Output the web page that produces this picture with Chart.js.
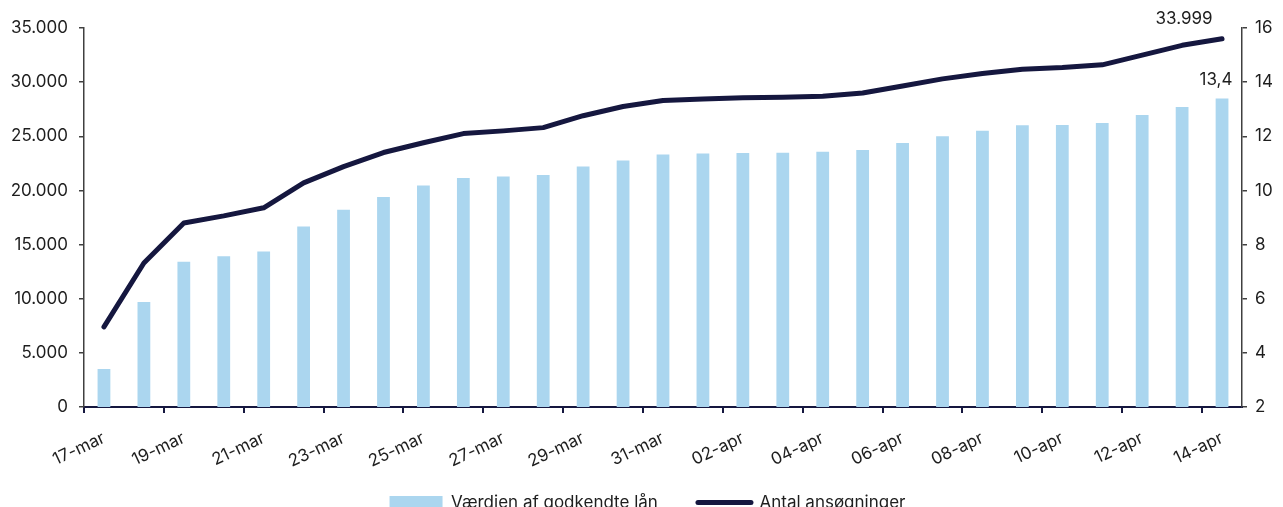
<!DOCTYPE html>
<html><head><meta charset="utf-8">
<script src="https://cdn.jsdelivr.net/npm/chart.js@4.4.1/dist/chart.umd.min.js"></script>
<style>html,body{margin:0;padding:0;overflow:hidden;background:#fff;width:1283px;height:507px}canvas{display:block}</style>
</head><body><canvas id="c" width="1283" height="521"></canvas>
<script>
const categories = ['17-mar','18-mar','19-mar','20-mar','21-mar','22-mar','23-mar','24-mar','25-mar','26-mar','27-mar','28-mar','29-mar','30-mar','31-mar',
  '01-apr','02-apr','03-apr','04-apr','05-apr','06-apr','07-apr','08-apr','09-apr','10-apr','11-apr','12-apr','13-apr','14-apr'];
// Værdien af godkendte lån (mia. kr., right axis)
const loanValues = [3.40,5.88,7.37,7.57,7.74,8.67,9.29,9.76,10.18,10.46,10.51,10.57,10.88,11.11,11.33,11.36,11.38,11.39,11.43,
  11.49,11.75,12.00,12.20,12.41,12.42,12.49,12.79,13.08,13.40];
// Antal ansøgninger (left axis)
const applications = [7400,13300,17000,17650,18400,20700,22200,23500,24400,25250,25500,25800,26900,27750,28300,
  28450,28550,28600,28700,29000,29650,30300,30800,31200,31350,31600,32500,33400,33999];
const leftTicks = [0,5000,10000,15000,20000,25000,30000,35000];
const rightTicks = [2,4,6,8,10,12,14,16];
const seriesNames = ['Værdien af godkendte lån','Antal ansøgninger'];

const FONT = 'Inter';
const FS = 17;
const TXT = '#1e1e1e';
const NAVY = '#15173f';
const BAR = '#abd6ef';

function fmtThousands(v){ return String(Math.round(v)).replace(/\B(?=(\d{3})+(?!\d))/g,'.'); }
function fmtDecimal(v){ return v.toFixed(1).replace('.',','); }

const endLabels = {
  id:'endLabels',
  afterDatasetsDraw(chart){
    const ctx = chart.ctx;
    const bm = chart.getDatasetMeta(0), lm = chart.getDatasetMeta(1);
    const bp = bm.data[bm.data.length-1], lp = lm.data[lm.data.length-1];
    ctx.save();
    ctx.font = FS + 'px ' + FONT; ctx.fillStyle = TXT;
    ctx.textAlign = 'center'; ctx.textBaseline = 'middle';
    ctx.fillText(fmtThousands(applications[applications.length-1]), lp.x - 38, lp.y - 20);
    ctx.fillText(fmtDecimal(loanValues[loanValues.length-1]), bp.x - 6, bp.y - 18);
    ctx.restore();
  }
};

const legendShift = {
  id:'legendShift',
  afterLayout(chart){
    if (chart.legend){ chart.legend.left += 6; chart.legend.right += 6; }
  }
};

new Chart(document.getElementById('c'), {
  data: {
    labels: categories,
    datasets: [
      { type:'bar', label: seriesNames[0], data: loanValues, yAxisID:'y1', backgroundColor: BAR,
        borderWidth:0, barPercentage:0.32, categoryPercentage:1, order:1 },
      { type:'line', label: seriesNames[1], data: applications, yAxisID:'y', borderColor: NAVY, backgroundColor: NAVY,
        borderWidth:5, pointRadius:0, borderCapStyle:'round', borderJoinStyle:'round', tension:0, order:0 }
    ]
  },
  options: {
    responsive:false, animation:false,
    layout:{ padding:{ top:28, left:0, right:0, bottom:0 } },
    plugins:{
      tooltip:{enabled:false},
      legend:{ position:'bottom', align:'center',
        labels:{ usePointStyle:true, pointStyleWidth:53, boxHeight:13, padding:20, color:TXT,
          font:{family:FONT, size:FS},
          sort:(a,b)=>a.datasetIndex-b.datasetIndex,
          generateLabels(chart){
            return chart.data.datasets.map((d,i)=>({
              text: d.label + (i===0 ? '\u2002\u2002\u2009' : ''), datasetIndex:i,
              fillStyle: i===0?BAR:NAVY, strokeStyle: i===0?BAR:NAVY,
              lineWidth: i===0?0:5, lineCap:'round',
              pointStyle: i===0?'rect':'line', hidden:false, fontColor:TXT
            }));
          }
        }
      }
    },
    scales:{
      x:{ type:'category', offset:true,
        grid:{ offset:true, drawOnChartArea:false, drawTicks:true, tickLength:6, lineWidth:2,
          color:(c)=> (c.index % 2 === 0 ? NAVY : 'rgba(0,0,0,0)') },
        border:{ display:true, color:NAVY, width:2 },
        ticks:{ autoSkip:false, minRotation:25, maxRotation:25, padding:15, color:TXT, font:{family:FONT,size:FS},
          callback:function(v,i){ return i % 2 === 0 ? this.getLabelForValue(v) : ''; } },
        afterFit:(s)=>{ s.height = 67; }
      },
      y:{ position:'left', min:0, max:35000,
        afterBuildTicks:(s)=>{ s.ticks = leftTicks.map(v=>({value:v})); },
        grid:{ drawOnChartArea:false, tickLength:5, color:'#404040', lineWidth:1.5 },
        border:{ display:true, color:'#404040', width:1.5 },
        ticks:{ padding:11, color:TXT, font:{family:FONT,size:FS}, callback:(v)=>fmtThousands(v) },
        afterFit:(s)=>{ s.width = 84; }
      },
      y1:{ position:'right', min:2, max:16,
        afterBuildTicks:(s)=>{ s.ticks = rightTicks.map(v=>({value:v})); },
        grid:{ drawOnChartArea:false, tickLength:5, color:'#404040', lineWidth:1.5 },
        border:{ display:true, color:'#404040', width:1.5 },
        ticks:{ padding:8, color:TXT, font:{family:FONT,size:FS}, callback:(v)=>String(v) },
        afterFit:(s)=>{ s.width = 41; }
      }
    }
  },
  plugins:[endLabels, legendShift]
});
</script>
</body></html>
